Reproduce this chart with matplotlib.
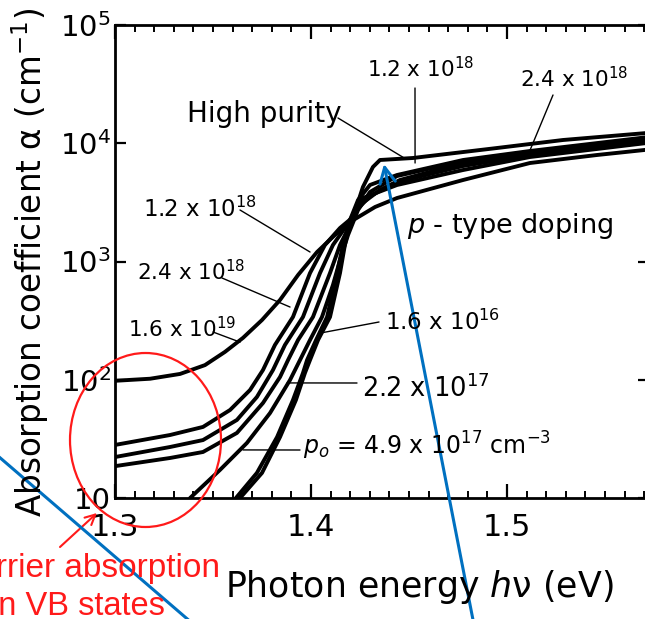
import numpy as np
import matplotlib
matplotlib.use("Agg")
import matplotlib.pyplot as plt
from matplotlib.patches import Ellipse, FancyArrowPatch
from matplotlib.lines import Line2D
from matplotlib.ticker import MultipleLocator, NullLocator, FuncFormatter

plt.rcParams['font.family'] = ['DejaVu Sans']
plt.rcParams['mathtext.fontset'] = 'dejavusans'

# Absorption edge of p-type GaAs: photon energy (eV) vs absorption coefficient (cm^-1)
energy_1p6e19 = [1.3000, 1.3179, 1.3332, 1.3459, 1.3561, 1.3653, 1.3750, 1.3842, 1.3934,
                 1.4031, 1.4122, 1.4199, 1.4327, 1.4439, 1.4776, 1.5117, 1.5459, 1.5724]
alpha_1p6e19 = [98, 102, 112, 133, 172, 226, 320, 473, 769,
                1203, 1675, 2158, 2891, 3443, 4890, 6806, 7955, 8850]

energy_2p4e18 = [1.3000, 1.3281, 1.3449, 1.3587, 1.3689, 1.3755, 1.3816, 1.3908, 1.3995,
                 1.4071, 1.4148, 1.4209, 1.4265, 1.4439, 1.4776, 1.5117, 1.5724]
alpha_2p4e18 = [28.1, 34.1, 39.9, 55.5, 81.9, 120.9, 196.8, 339.5, 799,
                1379, 1920, 2333, 3443, 4437, 5939, 7650, 10100]

energy_1p2e18 = [1.3000, 1.3281, 1.3449, 1.3622, 1.3724, 1.3806, 1.3867, 1.3959, 1.4046,
                 1.4112, 1.4173, 1.4224, 1.4301, 1.4439, 1.4776, 1.5117, 1.5724]
alpha_1p2e18 = [22.2, 27.0, 30.9, 45.7, 71.5, 120.9, 196.8, 339.5, 799,
                1379, 1920, 2622, 3580, 4702, 6420, 7955, 10500]

energy_4p9e17 = [1.3000, 1.3281, 1.3449, 1.3622, 1.3755, 1.3842, 1.3883, 1.3934, 1.4010,
                 1.4097, 1.4148, 1.4199, 1.4250, 1.4352, 1.4454, 1.4776, 1.5117, 1.5724]
alpha_4p9e17 = [18.6, 21.8, 24.5, 35.5, 63.6, 105.5, 146.9, 216.9, 339.5,
                799, 1379, 2036, 3005, 4024, 4890, 6806, 8271, 10900]

energy_2p2e17 = [1.3383, 1.3536, 1.3673, 1.3791, 1.3893, 1.3944, 1.3995, 1.4056, 1.4112,
                 1.4148, 1.4189, 1.4240, 1.4301, 1.4439, 1.4776, 1.5117, 1.5724]
alpha_2p2e17 = [10, 17.3, 29.2, 52.3, 99.5, 146.9, 216.9, 339.5, 633,
                1030, 1675, 2726, 3870, 5284, 7078, 8433, 11100]

energy_1p6e16 = [1.3617, 1.3724, 1.3827, 1.3908, 1.3959, 1.3980, 1.4026, 1.4082, 1.4133,
                 1.4163, 1.4199, 1.4240, 1.4301, 1.4439, 1.4776, 1.5117, 1.5724]
alpha_1p6e16 = [10, 16.3, 32.8, 67.4, 114.0, 146.9, 216.9, 339.5, 799,
                1379, 2244, 3313, 4437, 5389, 7217, 8599, 11300]

energy_pure = [1.3638, 1.3750, 1.3842, 1.3923, 1.3969, 1.3995, 1.4036, 1.4097, 1.4148,
               1.4173, 1.4199, 1.4235, 1.4265, 1.4316, 1.4352, 1.4520, 1.4949, 1.5286, 1.5724]
alpha_pure = [10, 16.3, 32.8, 67.4, 114.0, 146.9, 216.9, 339.5, 799,
              1379, 2158, 3005, 4266, 6298, 7217, 7504, 9116, 10654, 12250]

curves = [
    (energy_1p6e19, alpha_1p6e19),
    (energy_2p4e18, alpha_2p4e18),
    (energy_1p2e18, alpha_1p2e18),
    (energy_4p9e17, alpha_4p9e17),
    (energy_2p2e17, alpha_2p2e17),
    (energy_1p6e16, alpha_1p6e16),
    (energy_pure, alpha_pure),
]

x_major = [1.3, 1.4, 1.5]
y_major = [10, 1e2, 1e3, 1e4, 1e5]

W, H = 645, 619


def fpx(x, y):
    """Figure pixel position (from top-left) -> figure fraction."""
    return (x / W, 1 - y / H)


fig = plt.figure(figsize=(W / 100, H / 100), dpi=100, facecolor='white')
ax = fig.add_axes([115 / W, 1 - 498 / H, 534 / W, 473 / H])

for e, a in curves:
    ax.plot(e, a, color='black', lw=2.8, solid_joinstyle='round', solid_capstyle='round')

ax.set_yscale('log')
ax.set_xlim(1.3, 1.3 + 534 / 1960)
ax.set_ylim(10, 1e5)

ax.set_xticks(x_major)
ax.xaxis.set_minor_locator(MultipleLocator(0.01))
ax.xaxis.set_major_formatter(FuncFormatter(lambda v, p: f"{v:.1f}"))
ax.set_yticks(y_major)
ax.yaxis.set_minor_locator(NullLocator())


def ylab(v, pos):
    n = int(round(np.log10(v)))
    return "10" if n == 1 else rf"$10^{{{n}}}$"


ax.yaxis.set_major_formatter(FuncFormatter(ylab))

ax.tick_params(axis='x', which='both', direction='in', top=True, bottom=True)
ax.tick_params(axis='x', which='major', length=10, width=1.6, pad=11, labelsize=22)
ax.tick_params(axis='x', which='minor', length=5, width=1.4)
ax.tick_params(axis='y', which='major', direction='in', left=True, right=True,
               length=8, width=1.6, pad=3, labelsize=21)

for side in ('left', 'bottom', 'top'):
    ax.spines[side].set_linewidth(2.0)
ax.spines['right'].set_visible(False)

# axis titles
fig.text(*fpx(419, 587), r"Photon energy $h$ν (eV)", ha='center', va='center', fontsize=25)
fig.text(*fpx(30, 262), r"Absorption coefficient α (cm$^{-1}$)", ha='center', va='center',
         rotation=90, fontsize=23.5)

# curve labels with leader lines
labels = [
    ("High purity", (187, 122), (338, 118), (1.447, 7600), 20),
    (r"1.2 x 10$^{18}$", (367, 77), (415, 88), (1.4531, 6806), 15.5),
    (r"2.4 x 10$^{18}$", (520, 87), (553, 95), (1.5117, 8700), 15.5),
    (r"1.2 x 10$^{18}$", (143, 217), (240, 210), (1.3995, 1203), 16.5),
    (r"2.4 x 10$^{18}$", (137, 280), (222, 278), (1.3893, 412), 15.5),
    (r"1.6 x 10$^{19}$", (128, 337), (213, 332), (1.3638, 208), 15.5),
    (r"1.6 x 10$^{16}$", (385, 330), (379, 322), (1.4046, 248), 16.5),
    (r"2.2 x 10$^{17}$", (362, 397), (357, 383), (1.3878, 94), 18.5),
    (r"$p_o$ = 4.9 x 10$^{17}$ cm$^{-3}$", (303, 455), (300, 450), (1.3653, 25.5), 17),
]
for text, tpos, lpos, tip, fs in labels:
    fig.text(*fpx(*tpos), text, ha='left', va='baseline', fontsize=fs)
    ax.annotate('', xy=tip, xycoords='data', xytext=fpx(*lpos), textcoords='figure fraction',
                arrowprops=dict(arrowstyle='-', lw=1.0, color='black', shrinkA=0, shrinkB=0))

fig.text(*fpx(407, 233), r"$p$ - type doping", ha='left', va='baseline', fontsize=19.5)

# highlighted free-carrier region
red = '#ff1a1a'
fig.add_artist(Ellipse(fpx(145.5, 440), 151 / W, 174 / H, transform=fig.transFigure,
                       fill=False, edgecolor=red, lw=1.6))
fig.add_artist(FancyArrowPatch(fpx(60, 547), fpx(97, 513), transform=fig.transFigure,
                               arrowstyle='->', mutation_scale=18, lw=1.5, color=red,
                               shrinkA=0, shrinkB=0))
fig.text(*fpx(220, 577), "Free carrier absorption", ha='right', va='baseline', color=red,
         fontsize=24, family=['Liberation Sans'])
fig.text(*fpx(165, 615), "in VB states", ha='right', va='baseline', color=red,
         fontsize=23.5, family=['Liberation Sans'])

blue = '#0070c0'
fig.add_artist(Line2D([-2 / W, 192 / W], [1 - 456 / H, 1 - 623 / H], transform=fig.transFigure,
                      color=blue, lw=2.2))
fig.add_artist(FancyArrowPatch(fpx(474, 625), fpx(384, 164), transform=fig.transFigure,
                               arrowstyle='->', mutation_scale=28, lw=2.2, color=blue,
                               shrinkA=0, shrinkB=0))

fig.savefig("out.png", dpi=100)
